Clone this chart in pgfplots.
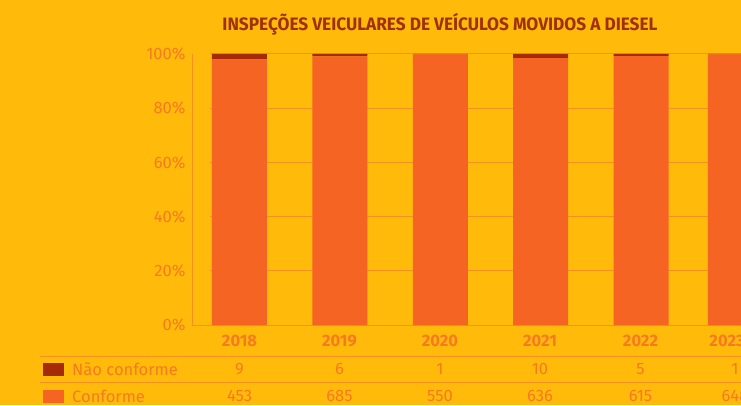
\documentclass[border=0pt]{standalone}
\usepackage{fontspec}
\setmainfont{Fira Sans}
\usepackage{graphicx}
\usepackage{pgfplots}
\pgfplotsset{compat=1.18}

\definecolor{bg}{HTML}{FFBA0A}
\definecolor{conf}{HTML}{F66424}
\definecolor{naoconf}{HTML}{A52A08}
\definecolor{txt}{HTML}{F77A20}
\definecolor{gridc}{HTML}{F7901E}
\definecolor{titlec}{HTML}{A0300A}

\newcommand\fs{\fontsize{16.5}{18}\selectfont}

\begin{document}
\begin{tikzpicture}[x=1pt,y=1pt]
\useasboundingbox (0,0) rectangle (741,405);
\fill[bg] (0,0) rectangle (741,405);
\clip (0,0) rectangle (741,405);
\node[font=\fontsize{18}{20}\bfseries\selectfont, text=titlec, inner sep=0pt] at (440,381)
  {\resizebox{435pt}{\height}{INSPEÇÕES VEICULARES DE VEÍCULOS MOVIDOS A DIESEL}};

% grid lines (behind the bars)
\foreach \g in {20,40,60,80,100} {
  \draw[gridc, line width=1pt] (210,80+2.71*\g) -- (760,80+2.71*\g);
}

\begin{axis}[
    at={(192pt,80pt)}, anchor=south west,
    scale only axis,
    width=597pt, height=271pt,
    xmin=-0.473, xmax=5.473,
    ymin=0, ymax=100,
    axis lines=left,
    axis line style={-, gridc, line width=1pt},
    ybar stacked,
    bar width=55pt,
    xtick=\empty,
    ytick={0,20,40,60,80,100},
    yticklabel={\pgfmathprintnumber{\tick}\%},
    /pgf/number format/assume math mode=true,
    yticklabel style={font=\fs, text=txt, xshift=-3pt},
    major tick length=0pt,
    clip=false,
]
% percentages: conforme / (conforme + nao conforme)
\addplot[fill=conf, draw=none] coordinates {
  (0,98.05) (1,99.13) (2,99.82) (3,98.45) (4,99.19) (4.94,99.85)
};
\addplot[fill=naoconf, draw=none] coordinates {
  (0,1.95) (1,0.87) (2,0.18) (3,1.55) (4,0.81) (4.94,0.15)
};
\end{axis}

% table below the bars
\draw[gridc, line width=1pt] (40,405-356) -- (760,405-356);
\draw[gridc, line width=1pt] (40,405-382) -- (760,405-382);
\fill[naoconf] (43,405-363) rectangle (64,405-376);
\fill[conf] (43,405-390) rectangle (64,405-403);
\node[anchor=west, text=txt, font=\fs, inner sep=0pt] at (72,405-369) {Não conforme};
\node[anchor=west, text=txt, font=\fs, inner sep=0pt] at (72,405-396) {Conforme};

\foreach \x/\xy/\yr/\n/\c in {239.5/239.5/2018/9/453, 339.5/339.5/2019/6/685, 440/440/2020/1/550,
    540/540/2021/10/636, 640.5/640.5/2022/5/615, 735/727/2023/1/648} {
  \node[text=txt, font=\fs\bfseries, inner sep=0pt] at (\xy,405-341) {\yr};
  \node[text=txt, font=\fs, inner sep=0pt] at (\x,405-369) {\n};
  \node[text=txt, font=\fs, inner sep=0pt] at (\x,405-396) {\c};
}
\end{tikzpicture}
\end{document}
